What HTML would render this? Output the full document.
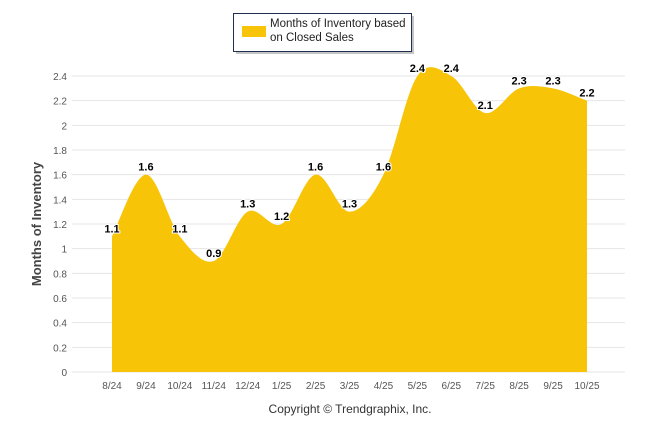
<!DOCTYPE html>
<html><head><meta charset="utf-8"><style>
body{margin:0;background:#fff;font-family:"Liberation Sans",sans-serif;}
svg{display:block}
</style></head><body>
<svg id="chart" width="646" height="434">
<g id="grid"></g>
<path id="area" fill="#F7C408"></path>
<g id="ticks"></g>
<g id="labels"></g>
<text x="41" y="224" transform="rotate(-90 41 224)" text-anchor="middle" font-size="13" font-weight="bold" fill="#444">Months of Inventory</text>
<text x="350" y="413" text-anchor="middle" font-size="12" fill="#333">Copyright © Trendgraphix, Inc.</text>
<g>
<rect x="236" y="16" width="178" height="38" fill="#555" opacity="0.35"/>
<rect x="233.5" y="13.5" width="178" height="38" fill="#fff" stroke="#1f2f50" stroke-width="1"/>
<rect x="242" y="26" width="24" height="11" fill="#F7C408"/>
<text x="270" y="27" font-size="11.5" fill="#222">Months of Inventory based</text>
<text x="270" y="41" font-size="11.5" fill="#222">on Closed Sales</text>
</g>
</svg>
<script>
const categories=["8/24","9/24","10/24","11/24","12/24","1/25","2/25","3/25","4/25","5/25","6/25","7/25","8/25","9/25","10/25"];
const values=[1.1,1.6,1.1,0.9,1.3,1.2,1.6,1.3,1.6,2.4,2.4,2.1,2.3,2.3,2.2];
const yTicks=[0,0.2,0.4,0.6,0.8,1,1.2,1.4,1.6,1.8,2,2.2,2.4];
const x0=112,x1=587,yb=372,yt=76,ymax=2.4;
const X=i=>x0+i*(x1-x0)/(categories.length-1);
const Y=v=>yb-(v/ymax)*(yb-yt);
const ns="http://www.w3.org/2000/svg";
const grid=document.getElementById('grid'),ticks=document.getElementById('ticks'),labels=document.getElementById('labels');
yTicks.forEach(t=>{
 const l=document.createElementNS(ns,'line');
 l.setAttribute('x1',72);l.setAttribute('x2',625);l.setAttribute('y1',Y(t));l.setAttribute('y2',Y(t));
 l.setAttribute('stroke','#e6e6e6');
 
 
 grid.appendChild(l);
 const tx=document.createElementNS(ns,'text');
 tx.setAttribute('x',67);tx.setAttribute('y',Y(t)+4);tx.setAttribute('text-anchor','end');
 tx.setAttribute('font-size','10');tx.setAttribute('fill','#555');tx.textContent=String(t);
 
 
 ticks.appendChild(tx);
});
categories.forEach((c,i)=>{
 const tx=document.createElementNS(ns,'text');
 tx.setAttribute('x',X(i));tx.setAttribute('y',389);tx.setAttribute('text-anchor','middle');
 tx.setAttribute('font-size','10');tx.setAttribute('fill','#555');tx.textContent=c;
 
 
 ticks.appendChild(tx);
});
// Catmull-Rom spline
const pts=values.map((v,i)=>[X(i),Y(v)]);
let d=`M${pts[0][0]},${yb} L${pts[0][0]},${pts[0][1]}`;
const n=pts.length;
for(let i=0;i<n-1;i++){
 const p0=pts[Math.max(i-1,0)],p1=pts[i],p2=pts[i+1],p3=pts[Math.min(i+2,n-1)];
 const c1=[p1[0]+(p2[0]-p0[0])/6,p1[1]+(p2[1]-p0[1])/6];
 const c2=[p2[0]-(p3[0]-p1[0])/6,p2[1]-(p3[1]-p1[1])/6];
 d+=` C${c1[0]},${c1[1]} ${c2[0]},${c2[1]} ${p2[0]},${p2[1]}`;
}
d+=` L${pts[n-1][0]},${yb} Z`;
document.getElementById('area').setAttribute('d',d);
values.forEach((v,i)=>{
 const tx=document.createElementNS(ns,'text');
 tx.setAttribute('x',X(i));tx.setAttribute('y',Y(v)-4);tx.setAttribute('text-anchor','middle');
 tx.setAttribute('font-size','11');tx.setAttribute('font-weight','bold');tx.setAttribute('fill','#000');
 tx.setAttribute('stroke','#fff');tx.setAttribute('stroke-width','2');tx.setAttribute('paint-order','stroke');
 tx.textContent=v.toFixed(1);
 
 
 labels.appendChild(tx);
});
</script>
</body></html>
